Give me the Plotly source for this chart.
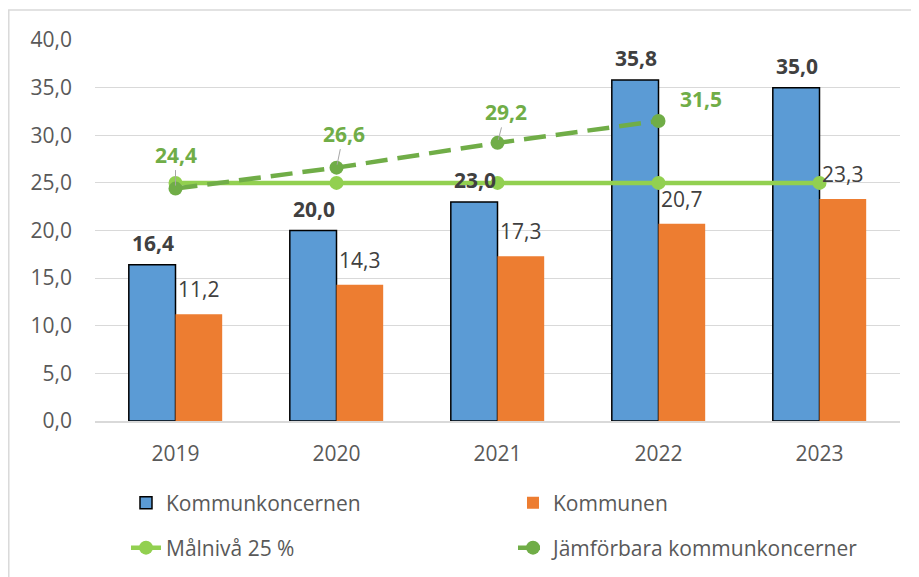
import plotly.graph_objects as go

years = ["2019", "2020", "2021", "2022", "2023"]
kommunkoncernen = [16.4, 20.0, 23.0, 35.8, 35.0]
kommunen = [11.2, 14.3, 17.3, 20.7, 23.3]
malniva = [25.0, 25.0, 25.0, 25.0, 25.0]
jamforbara = [24.4, 26.6, 29.2, 31.5, None]

# label offsets (style only)
jmf_offsets = [(0, -34, True), (7, -34, True), (8, -31, True), (42, -22, False)]

FONT = "Open Sans"
FS = 21
BLUE = "#5B9BD5"
ORANGE = "#ED7D31"
LGREEN = "#92D050"
DGREEN = "#70AD47"
TXT = "#404040"
AX = "#595959"


def fmt(v):
    return f"{v:.1f}".replace(".", ",")


fig = go.Figure()
fig.add_trace(go.Bar(x=years, y=kommunkoncernen, name="Kommunkoncernen",
                     marker=dict(color=BLUE, line=dict(color="black", width=1.5)),
                     legend="legend"))
fig.add_trace(go.Bar(x=years, y=kommunen, name="Kommunen",
                     marker=dict(color=ORANGE, line=dict(width=0)),
                     legend="legend"))
fig.add_trace(go.Scatter(x=years, y=malniva, name="Målnivå 25 %", mode="lines+markers",
                         line=dict(color=LGREEN, width=4.5),
                         marker=dict(color=LGREEN, size=14), legend="legend2"))
fig.add_trace(go.Scatter(x=years, y=jamforbara, name="Jämförbara kommunkoncerner",
                         mode="lines+markers",
                         line=dict(color=DGREEN, width=4.5, dash="22px,10px"),
                         marker=dict(color=DGREEN, size=14), legend="legend2"))

ann = []
for i, v in enumerate(kommunkoncernen):
    ann.append(dict(x=i, y=v, xref="x", yref="y", text=fmt(v), showarrow=False,
                    xshift=-23, yshift=22, font=dict(family=FONT, size=FS, color=TXT, weight="bold")))
for i, v in enumerate(kommunen):
    ann.append(dict(x=i, y=v, xref="x", yref="y", text=fmt(v), showarrow=False,
                    xshift=23, yshift=25, font=dict(family=FONT, size=FS, color=TXT)))
for i, (v, (dx, dy, arrow)) in enumerate(zip(jamforbara, jmf_offsets)):
    if v is None:
        continue
    if arrow:
        ann.append(dict(x=i, y=v, xref="x", yref="y", text=fmt(v), showarrow=True,
                        ax=dx, ay=dy, arrowhead=0, arrowwidth=1, arrowcolor="#A6A6A6",
                        standoff=3, font=dict(family=FONT, size=FS, color=DGREEN, weight="bold")))
    else:
        ann.append(dict(x=i, y=v, xref="x", yref="y", text=fmt(v), showarrow=False,
                        xshift=dx, yshift=-dy, font=dict(family=FONT, size=FS, color=DGREEN, weight="bold")))

fig.update_layout(
    width=911, height=569,
    margin=dict(l=87, r=19, t=32, b=156, autoexpand=False),
    paper_bgcolor="white", plot_bgcolor="white",
    separators=", ",
    barmode="group", bargap=0.42, bargroupgap=0,
    font=dict(family=FONT, size=FS, color=AX),
    annotations=ann,
    xaxis=dict(type="category", range=[-0.5, len(years) - 0.5], showline=True,
               linecolor="#D9D9D9", linewidth=1.5, showgrid=False,
               ticks="", ticklabelstandoff=13, tickfont=dict(size=FS, color=AX)),
    yaxis=dict(range=[0, 40], dtick=5, tickformat=".1f", showgrid=True, gridcolor="#D9D9D9",
               gridwidth=1, zeroline=False, showline=False, ticks="",
               ticklabelstandoff=22, tickfont=dict(size=FS, color=AX)),
    legend=dict(orientation="h", x=0.0385, xanchor="left", yref="container", y=0.130, yanchor="middle",
                entrywidth=342, entrywidthmode="pixels", font=dict(size=FS, color=AX),
                bgcolor="rgba(0,0,0,0)"),
    legend2=dict(orientation="h", x=0.0385, xanchor="left", yref="container", y=0.051, yanchor="middle",
                 entrywidth=342, entrywidthmode="pixels", font=dict(size=FS, color=AX),
                 bgcolor="rgba(0,0,0,0)"),
    shapes=[dict(type="rect", xref="paper", yref="paper", x0=-0.1071, x1=1.06, y0=-0.45, y1=1.0787,
                 line=dict(color="#D9D9D9", width=1.5), layer="below")],
)

fig.write_html("out.html")
